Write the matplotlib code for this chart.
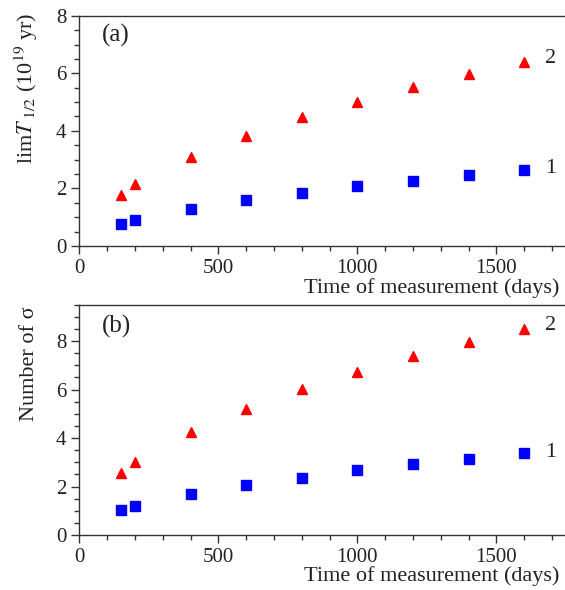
import matplotlib
matplotlib.use("Agg")
import matplotlib.pyplot as plt
from matplotlib.ticker import MultipleLocator

plt.rcParams['font.family'] = ['Liberation Serif', 'DejaVu Serif']
plt.rcParams['mathtext.fontset'] = 'stix'
plt.rcParams['font.size'] = 15

days = [150, 200, 400, 600, 800, 1000, 1200, 1400, 1600]

# (a) half-life limits, 10^19 yr
t_half_1 = [0.75, 0.89, 1.28, 1.61, 1.85, 2.08, 2.27, 2.47, 2.64]
t_half_2 = [1.79, 2.14, 3.10, 3.83, 4.47, 5.01, 5.53, 5.96, 6.38]

# (b) number of sigma
sigma_1 = [1.02, 1.18, 1.69, 2.06, 2.36, 2.67, 2.93, 3.13, 3.38]
sigma_2 = [2.54, 3.00, 4.24, 5.20, 6.02, 6.73, 7.38, 7.97, 8.51]

fig = plt.figure(figsize=(5.65, 5.9), dpi=100)
ax1 = fig.add_axes([0.1404, 0.583, 0.8857, 0.3903])
ax2 = fig.add_axes([0.1404, 0.0932, 0.8857, 0.3903])

sq = dict(marker='s', color='#0000ff', ms=7.5, ls='none')
tri = dict(marker='^', color='#ff0000', ms=7.5, ls='none')

ax1.plot(days, t_half_1, **sq)
ax1.plot(days, t_half_2, **tri)
ax2.plot(days, sigma_1, **sq)
ax2.plot(days, sigma_2, **tri)

for ax, ymax in ((ax1, 8), (ax2, 9.5)):
    ax.set_xlim(0, 1800)
    ax.set_ylim(0, ymax)
    ax.xaxis.set_major_locator(MultipleLocator(500))
    ax.xaxis.set_minor_locator(MultipleLocator(100))
    ax.yaxis.set_major_locator(MultipleLocator(2))
    ax.yaxis.set_minor_locator(MultipleLocator(0.5))
    ax.tick_params(which='major', direction='out', length=6, width=1, colors='#333333', labelcolor='#222222', labelsize=15)
    ax.tick_params(which='minor', direction='out', length=3.5, width=1, colors='#333333')
    ax.spines['right'].set_visible(False)
    for s in ('left', 'top', 'bottom'):
        ax.spines[s].set_color('#333333')
        ax.spines[s].set_linewidth(1)

ax1.text(1675, 6.5, '2', ha='left', va='center', color='#222222', fontsize=16)
ax1.text(1675, 2.7, '1', ha='left', va='center', color='#222222', fontsize=16)
ax2.text(1675, 8.66, '2', ha='left', va='center', color='#222222', fontsize=16)
ax2.text(1675, 3.42, '1', ha='left', va='center', color='#222222', fontsize=16)

ax1.text(80, 7.33, '(a)', ha='left', va='center', color='#222222', fontsize=18)
ax2.text(80, 8.6, '(b)', ha='left', va='center', color='#222222', fontsize=18)

ax1.set_ylabel(r'lim$T_{\ 1/2}$ (10$^{19}$ yr)', color='#222222', fontsize=16)
ax2.set_ylabel('Number of σ', color='#222222', fontsize=16)
ax1.yaxis.set_label_coords(-0.079, 0.687)
ax2.yaxis.set_label_coords(-0.081, 0.742)

fig.text(559 / 565, 1 - 288 / 590, 'Time of measurement (days)', ha='right', va='center', color='#222222', fontsize=16)
fig.text(559 / 565, 1 - 576 / 590, 'Time of measurement (days)', ha='right', va='center', color='#222222', fontsize=16)

fig.savefig('out.png', dpi=100)
